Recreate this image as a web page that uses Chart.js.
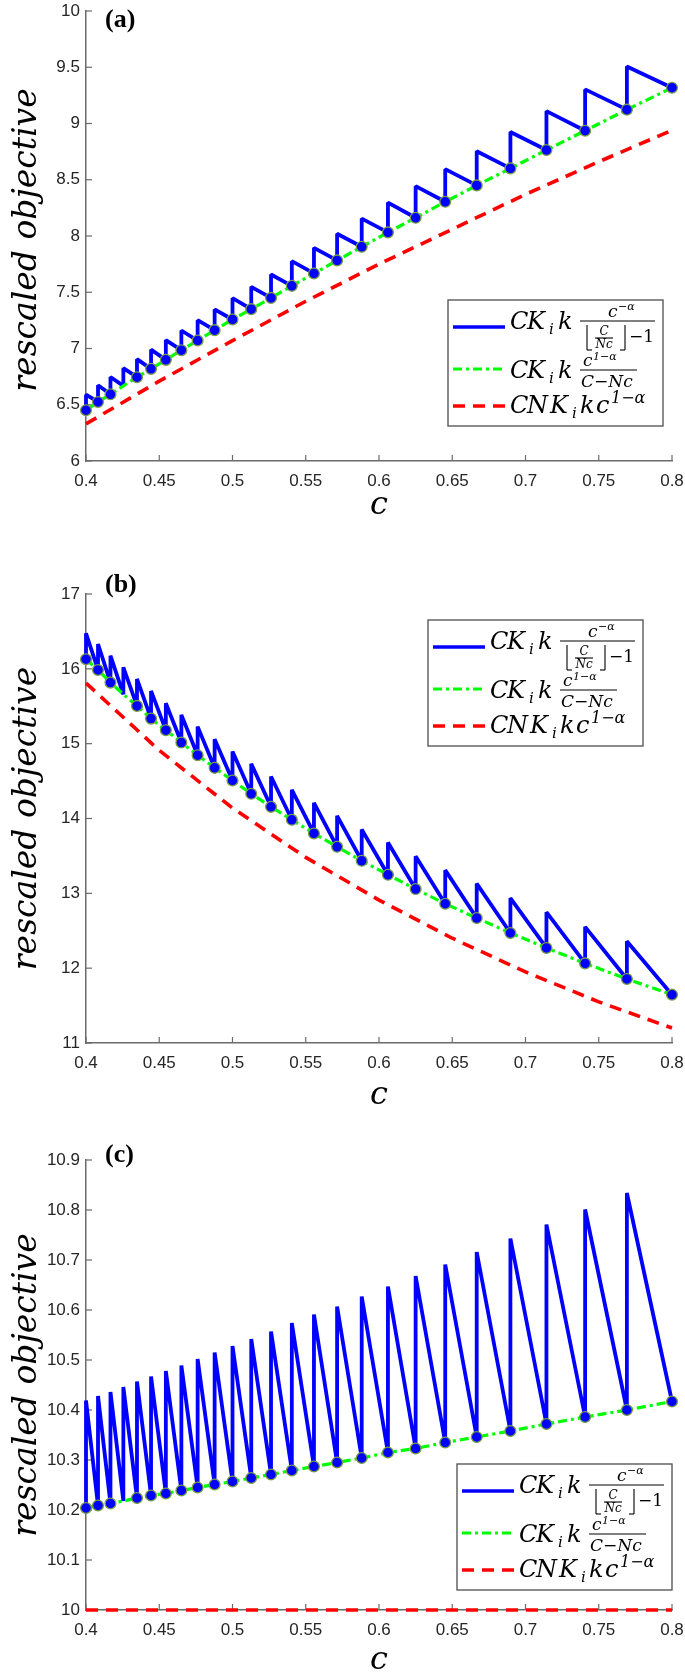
<!DOCTYPE html>
<html>
<head>
<meta charset="utf-8">
<script src="https://cdn.jsdelivr.net/npm/chart.js@4.4.1/dist/chart.umd.min.js"></script>
<style>
    html, body { margin: 0; padding: 0; background: #fff; }
    #wrap { position: relative; width: 685px; height: 1673px; }
    canvas { position: absolute; left: 0; }
</style>
</head>
<body>
<div id="wrap">
    <canvas id="panelA" width="685" height="560" style="top:0px"></canvas>
    <canvas id="panelB" width="685" height="560" style="top:560px"></canvas>
    <canvas id="panelC" width="685" height="553" style="top:1120px"></canvas>
</div>
<script>
// Valores de c donde el techo cambia (puntos marcados)
const cDots = [0.4, 0.4082, 0.4167, 0.4255, 0.4348, 0.4444, 0.4545, 0.4651, 0.4762, 0.4878,
    0.5, 0.5128, 0.5263, 0.5405, 0.5556, 0.5714, 0.5882, 0.6061, 0.625, 0.6452,
    0.6667, 0.6897, 0.7143, 0.7407, 0.7692, 0.8];
// el punto en 0.4255 no tiene marcador en la figura
const dotShown = [1, 1, 1, 0, 1, 1, 1, 1, 1, 1, 1, 1, 1, 1, 1, 1, 1, 1, 1, 1, 1, 1, 1, 1, 1, 1];

// Panel (a)
const greenA = [6.451, 6.525, 6.593, 6.668, 6.745, 6.819, 6.899, 6.985, 7.071, 7.163,
    7.258, 7.350, 7.450, 7.557, 7.667, 7.783, 7.904, 8.032, 8.162, 8.304,
    8.450, 8.601, 8.764, 8.936, 9.123, 9.318];
const peakA = [6.59, 6.673, 6.747, 6.825, 6.905, 6.99, 7.075, 7.16, 7.252, 7.347,
    7.447, 7.548, 7.658, 7.776, 7.895, 8.02, 8.155, 8.297, 8.443, 8.594,
    8.753, 8.925, 9.11, 9.303, 9.507];
const redX = [0.4, 0.45, 0.5, 0.55, 0.6, 0.65, 0.7, 0.75, 0.8];
const redA = [6.33, 6.71, 7.07, 7.42, 7.75, 8.06, 8.37, 8.66, 8.94];

// Panel (b)
const greenB = [16.128, 15.985, 15.816, 15.66, 15.505, 15.335, 15.180, 15.015, 14.846, 14.677,
    14.508, 14.330, 14.156, 13.983, 13.800, 13.622, 13.435, 13.248, 13.057, 12.861,
    12.670, 12.470, 12.270, 12.064, 11.856, 11.646];
const peakB = [16.475, 16.332, 16.176, 16.021, 15.865, 15.705, 15.541, 15.385, 15.228, 15.060,
    14.895, 14.730, 14.561, 14.383, 14.210, 14.036, 13.852, 13.678, 13.497, 13.31,
    13.13, 12.937, 12.748, 12.552, 12.36];
const redB = [15.81, 14.91, 14.14, 13.48, 12.91, 12.40, 11.95, 11.55, 11.20];

// Panel (c)
const greenC = [10.204, 10.209, 10.213, 10.218, 10.224, 10.229, 10.233, 10.239, 10.245, 10.251,
    10.257, 10.264, 10.271, 10.279, 10.287, 10.295, 10.304, 10.315, 10.323, 10.335,
    10.346, 10.358, 10.372, 10.386, 10.400, 10.417];
const peakC = [10.419, 10.428, 10.436, 10.446, 10.457, 10.467, 10.478, 10.489, 10.502, 10.515,
    10.528, 10.542, 10.557, 10.574, 10.591, 10.607, 10.627, 10.647, 10.668, 10.691,
    10.716, 10.743, 10.771, 10.801, 10.834];
const redC = [10, 10, 10, 10, 10, 10, 10, 10, 10];

// Etiquetas de ejes
const xTickVals = [0.4, 0.45, 0.5, 0.55, 0.6, 0.65, 0.7, 0.75, 0.8];
const xTickLabels = ['0.4', '0.45', '0.5', '0.55', '0.6', '0.65', '0.7', '0.75', '0.8'];
const yTickValsA = [6, 6.5, 7, 7.5, 8, 8.5, 9, 9.5, 10];
const yTickLabelsA = ['6', '6.5', '7', '7.5', '8', '8.5', '9', '9.5', '10'];
const yTickValsB = [11, 12, 13, 14, 15, 16, 17];
const yTickLabelsB = ['11', '12', '13', '14', '15', '16', '17'];
const yTickValsC = [10, 10.1, 10.2, 10.3, 10.4, 10.5, 10.6, 10.7, 10.8, 10.9];
const yTickLabelsC = ['10', '10.1', '10.2', '10.3', '10.4', '10.5', '10.6', '10.7', '10.8', '10.9'];

const AXIS = '#6b6b6b';
const MATH = '"DejaVu Serif", serif';

function put(ctx, s, x, y, size, italic) {
    ctx.font = (italic === false ? '' : 'italic ') + size + 'px ' + MATH;
    ctx.fillText(s, x, y);
}

function seg(ctx, x1, y1, x2, y2) {
    ctx.beginPath();
    ctx.moveTo(x1, y1);
    ctx.lineTo(x2, y2);
    ctx.stroke();
}

function sample(ctx, bx, y, color, w, dash) {
    ctx.save();
    ctx.strokeStyle = color;
    ctx.lineWidth = w;
    ctx.setLineDash(dash);
    seg(ctx, bx + 5, y, bx + 57, y);
    ctx.restore();
}

// Leyenda con notación matemática
function drawLegend(ctx, bx, by) {
    ctx.save();
    ctx.fillStyle = '#fff';
    ctx.fillRect(bx, by, 215, 126);
    ctx.strokeStyle = '#4d4d4d';
    ctx.lineWidth = 1.3;
    ctx.strokeRect(bx, by, 215, 126);

    sample(ctx, bx, by + 27, '#0000ff', 3.5, []);
    sample(ctx, bx, by + 69, '#00ff00', 3.2, [9, 4, 3, 4]);
    sample(ctx, bx, by + 106, '#ff0000', 3.5, [12, 8]);

    ctx.fillStyle = '#000';
    ctx.strokeStyle = '#000';
    ctx.textAlign = 'left';
    ctx.textBaseline = 'alphabetic';

    // fila 1
    let y = by + 29;
    put(ctx, 'C', bx + 62, y, 24);
    put(ctx, 'K', bx + 79, y, 24);
    put(ctx, 'i', bx + 101, y + 5, 15);
    put(ctx, 'k', bx + 110, y, 24);
    ctx.lineWidth = 1;
    seg(ctx, bx + 132, by + 21, bx + 207, by + 21);
    put(ctx, 'c', bx + 160, by + 17, 17);
    put(ctx, '\u2212\u03b1', bx + 170, by + 10, 11);
    // corchetes de piso
    ctx.lineWidth = 1.1;
    seg(ctx, bx + 139, by + 25, bx + 139, by + 50);
    seg(ctx, bx + 139, by + 50, bx + 144, by + 50);
    seg(ctx, bx + 177, by + 25, bx + 177, by + 50);
    seg(ctx, bx + 172, by + 50, bx + 177, by + 50);
    ctx.textAlign = 'center';
    put(ctx, 'C', bx + 156, by + 35, 12);
    seg(ctx, bx + 147, by + 38, bx + 165, by + 38);
    put(ctx, 'Nc', bx + 156, by + 48, 12);
    ctx.textAlign = 'left';
    put(ctx, '\u22121', bx + 181, by + 42, 17, false);

    // fila 2
    y = by + 78;
    put(ctx, 'C', bx + 62, y, 24);
    put(ctx, 'K', bx + 79, y, 24);
    put(ctx, 'i', bx + 101, y + 5, 15);
    put(ctx, 'k', bx + 110, y, 24);
    ctx.lineWidth = 1;
    seg(ctx, bx + 132, by + 70, bx + 189, by + 70);
    put(ctx, 'c', bx + 135, by + 66, 17);
    put(ctx, '1\u2212\u03b1', bx + 145, by + 60, 11);
    put(ctx, 'C\u2212Nc', bx + 133, by + 87, 17);

    // fila 3
    y = by + 113;
    put(ctx, 'C', bx + 62, y, 24);
    put(ctx, 'N', bx + 79, y, 24);
    put(ctx, 'K', bx + 102, y, 24);
    put(ctx, 'i', bx + 124, y + 5, 15);
    put(ctx, 'k', bx + 132, y, 24);
    put(ctx, 'c', bx + 148, y, 24);
    put(ctx, '1\u2212\u03b1', bx + 163, by + 103, 16);
    ctx.restore();
}

// Ticks hacia adentro, títulos, etiqueta del panel y leyenda
const decor = {
    id: 'decor',
    beforeDatasetsDraw(chart, args, o) {
        const { ctx, chartArea: a, scales } = chart;
        ctx.save();
        ctx.strokeStyle = AXIS;
        ctx.lineWidth = 1.2;
        scales.x.ticks.forEach(t => {
            const px = scales.x.getPixelForValue(t.value);
            seg(ctx, px, a.bottom, px, a.bottom - 6);
        });
        scales.y.ticks.forEach(t => {
            const py = scales.y.getPixelForValue(t.value);
            seg(ctx, a.left, py, a.left + 6, py);
        });
        ctx.restore();
    },
    afterDraw(chart, args, o) {
        const { ctx, chartArea: a } = chart;
        ctx.save();
        ctx.fillStyle = '#000';
        ctx.font = 'bold 26px "Liberation Serif", serif';
        ctx.textAlign = 'left';
        ctx.textBaseline = 'middle';
        ctx.fillText(o.tag, 105, o.tagY);

        ctx.save();
        ctx.translate(36, (a.top + a.bottom) / 2 + o.yTitleShift);
        ctx.rotate(-Math.PI / 2);
        ctx.font = 'italic 33px ' + MATH;
        ctx.textAlign = 'center';
        ctx.textBaseline = 'alphabetic';
        ctx.fillText('rescaled objective', 0, 0);
        ctx.restore();

        ctx.font = 'italic 32px ' + MATH;
        ctx.textAlign = 'center';
        ctx.textBaseline = 'middle';
        ctx.fillText('c', (a.left + a.right) / 2, o.xTitleY);

        drawLegend(ctx, a.left + o.legX, a.top + o.legY);
        ctx.restore();
    }
};

function buildChart(id, p) {
    const last = cDots.length - 1;
    // diente de sierra: salto vertical en cada punto y bajada hasta el siguiente
    const saw = [];
    for (let k = 0; k < p.peak.length; k++) {
        saw.push({ x: cDots[k], y: p.green[k] });
        saw.push({ x: cDots[k], y: p.peak[k] });
    }
    saw.push({ x: cDots[last], y: p.green[last] });

    const greenPts = cDots.map((c, i) => ({ x: c, y: p.green[i] }));
    const redPts = redX.map((c, i) => ({ x: c, y: p.red[i] }));
    const tickFont = { family: '"Liberation Sans", Arial, sans-serif', size: 17 };

    new Chart(document.getElementById(id), {
        type: 'line',
        data: {
            datasets: [
                {
                    label: 'dots',
                    data: greenPts,
                    showLine: false,
                    pointRadius: ctx => dotShown[ctx.dataIndex] ? 5.4 : 0,
                    pointBackgroundColor: '#0000ff',
                    pointBorderColor: '#7a9e45',
                    pointBorderWidth: 1.3,
                    order: 0,
                    clip: false
                },
                {
                    label: 'green',
                    data: greenPts,
                    borderColor: '#00ff00',
                    borderWidth: 3.2,
                    borderDash: [9, 4, 3, 4],
                    pointRadius: 0,
                    order: 1,
                    clip: false
                },
                {
                    label: 'blue',
                    data: saw,
                    borderColor: '#0000ff',
                    borderWidth: 3.8,
                    borderJoinStyle: 'bevel',
                    pointRadius: 0,
                    order: 2,
                    clip: false
                },
                {
                    label: 'red',
                    data: redPts,
                    borderColor: '#ff0000',
                    borderWidth: 3.6,
                    borderDash: [12, 8],
                    pointRadius: 0,
                    order: 3,
                    clip: false
                }
            ]
        },
        options: {
            responsive: false,
            animation: false,
            devicePixelRatio: 1,
            layout: { padding: { top: p.top, right: 13, bottom: 0, left: 0 } },
            plugins: {
                legend: { display: false },
                tooltip: { enabled: false },
                decor: p.decor
            },
            scales: {
                x: {
                    type: 'linear',
                    min: 0.4,
                    max: 0.8,
                    afterBuildTicks: s => { s.ticks = xTickVals.map(v => ({ value: v })); },
                    afterFit: s => { s.height = p.xAxisH; s.paddingLeft = 0; s.paddingRight = 0; },
                    ticks: {
                        callback: (v, i) => xTickLabels[i],
                        font: tickFont,
                        color: '#262626',
                        padding: 10,
                        maxRotation: 0,
                        autoSkip: false
                    },
                    grid: { display: false, drawTicks: false },
                    border: { display: true, color: AXIS, width: 1.5 }
                },
                y: {
                    type: 'linear',
                    min: p.yVals[0],
                    max: p.yVals[p.yVals.length - 1],
                    afterBuildTicks: s => { s.ticks = p.yVals.map(v => ({ value: v })); },
                    afterFit: s => { s.width = 86; s.paddingTop = 0; s.paddingBottom = 0; },
                    ticks: {
                        callback: (v, i) => p.yLabels[i],
                        font: tickFont,
                        color: '#262626',
                        padding: 6,
                        autoSkip: false
                    },
                    grid: { display: false, drawTicks: false },
                    border: { display: true, color: AXIS, width: 1.5 }
                }
            }
        },
        plugins: [decor]
    });
}

buildChart('panelA', {
    green: greenA, peak: peakA, red: redA,
    yVals: yTickValsA, yLabels: yTickLabelsA,
    top: 11, xAxisH: 99,
    decor: { tag: '(a)', tagY: 20, xTitleY: 506, yTitleShift: 4, legX: 362, legY: 289 }
});
buildChart('panelB', {
    green: greenB, peak: peakB, red: redB,
    yVals: yTickValsB, yLabels: yTickLabelsB,
    top: 34, xAxisH: 77,
    decor: { tag: '(b)', tagY: 25, xTitleY: 536, yTitleShift: 0, legX: 342, legY: 26 }
});
buildChart('panelC', {
    green: greenC, peak: peakC, red: redC,
    yVals: yTickValsC, yLabels: yTickLabelsC,
    top: 40, xAxisH: 63,
    decor: { tag: '(c)', tagY: 35, xTitleY: 541, yTitleShift: 0, legX: 371, legY: 304 }
});
</script>
</body>
</html>
